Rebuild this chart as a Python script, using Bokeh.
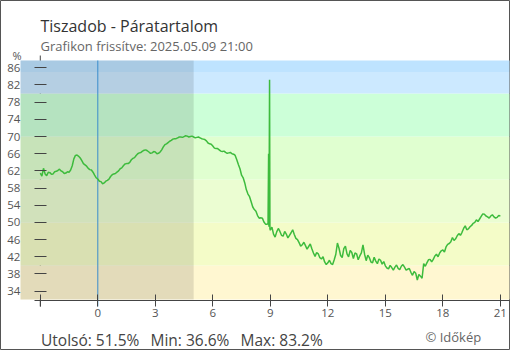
import numpy as np
from bokeh.plotting import figure
from bokeh.models import Range1d, LinearAxis, FixedTicker, Label, ColumnDataSource
from bokeh.embed import file_html
from bokeh.resources import INLINE

# ---- data -------------------------------------------------------------
title_text = "Tiszadob - Páratartalom"
subtitle_text = "Grafikon frissítve: 2025.05.09 21:00"
copyright_text = "© Időkép"

start_hour = -3.0
step_hour = 1 / 6  # 10 minutes
# readings on the 10-minute marks, from -3:00 to 21:00
humidity = [
    61.5, 62.6, 60.9, 61.6, 61.3, 61.9, 62.4, 61.8, 61.5, 61.7,
    63.2, 65.6, 65.4, 64.4, 63.4, 62.6, 62.2, 61.0, 60.1, 59.5,
    59.2, 59.8, 60.7, 61.3, 61.7, 62.5, 63.2, 63.7, 64.0, 64.9,
    65.6, 66.2, 66.6, 66.9, 66.4, 66.2, 66.4, 66.1, 66.9, 68.1,
    68.6, 69.1, 69.5, 69.7, 69.9, 70.0, 70.1, 70.0, 69.9, 69.8,
    69.7, 69.4, 69.0, 68.3, 67.8, 67.2, 66.9, 66.5, 66.3, 66.2,
    66.0, 65.6, 63.5, 61.0, 59.2, 56.6, 54.8, 53.0, 51.6, 51.1,
    50.1, 49.6, 48.2, 47.3, 47.8, 47.9, 46.8, 47.3, 47.0, 48.3,
    46.3, 45.3, 44.8, 44.6, 44.4, 43.9, 42.1, 42.7, 41.5, 40.8,
    40.6, 40.4, 41.3, 45.2, 42.3, 43.9, 42.7, 43.5, 41.6, 42.7,
    42.2, 44.8, 41.1, 41.8, 40.6, 41.0, 41.5, 40.3, 39.9, 39.2,
    39.5, 39.6, 39.3, 39.8, 39.6, 39.1, 38.4, 38.6, 36.6, 37.5,
    40.4, 40.6, 41.4, 41.4, 42.6, 42.9, 43.6, 44.3, 45.1, 46.5,
    46.2, 47.4, 47.7, 49.2, 48.5, 49.3, 50.0, 50.2, 51.4, 51.9,
    51.3, 51.5, 51.3, 51.2, 51.5,
]
# readings 5 minutes after each 10-minute mark
humidity_mid = [
    60.8, 61.3, 61.7, 61.2, 61.8, 62.1, 62.0, 61.4, 61.8, 62.2,
    64.8, 65.7, 65.0, 63.7, 63.1, 62.3, 61.7, 60.4, 59.6, 59.0,
    59.6, 60.1, 61.1, 61.4, 62.0, 62.7, 63.6, 63.7, 64.6, 65.1,
    66.0, 66.3, 66.8, 66.7, 66.1, 66.5, 66.0, 66.4, 67.6, 68.3,
    68.9, 69.4, 69.5, 69.9, 69.8, 70.2, 69.9, 70.1, 69.7, 69.9,
    69.5, 69.3, 68.5, 68.2, 67.3, 67.2, 66.6, 66.6, 66.1, 66.3,
    65.9, 64.6, 62.5, 60.4, 57.6, 56.0, 53.6, 52.6, 51.0, 51.0,
    49.6, 50.5, 48.9, 46.6, 48.6, 47.0, 47.9, 46.4, 47.6, 47.2,
    46.0, 44.5, 45.4, 43.8, 45.0, 42.9, 43.0, 41.8, 42.0, 40.2,
    41.2, 40.2, 42.6, 44.0, 41.8, 44.5, 42.0, 43.0, 42.9, 41.3,
    42.9, 42.6, 42.4, 40.8, 41.9, 40.4, 41.2, 40.9, 39.4, 40.0,
    38.9, 40.1, 39.0, 40.2, 38.9, 39.3, 37.7, 38.2, 37.9, 37.0,
    39.8, 41.3, 40.8, 42.2, 42.0, 43.4, 43.1, 44.9, 45.5, 45.8,
    46.9, 47.0, 48.6, 48.3, 49.0, 49.8, 50.6, 50.8, 52.0, 51.5,
    51.0, 51.8, 51.0, 51.6,
]
# short spike just before 9:00
spike_hours = [8.88, 8.91, 8.93, 8.96, 8.98]
spike_values = [49.7, 66.0, 49.0, 83.2, 48.5]

band_low = [32.07, 40, 50, 60, 70, 80, 85]
band_high = [40, 50, 60, 70, 80, 85, 87.7]
band_colors = ["#fff7d1", "#f4fcc8", "#ebfdd2", "#e0ffd0", "#ccffd8", "#cce9ff", "#bee3ff"]

y_ticks = [34, 38, 42, 46, 50, 54, 58, 62, 66, 70, 74, 78, 82, 86]
x_ticks = [-3, 0, 3, 6, 9, 12, 15, 18, 21]
night_end = 5.0
midnight = 0.0

# ---- build series ------------------------------------------------------
hours = [start_hour + i * step_hour for i in range(len(humidity))]
mid_hours = [start_hour + (i + 0.5) * step_hour for i in range(len(humidity_mid))]
pairs = sorted(list(zip(hours, humidity)) + list(zip(mid_hours, humidity_mid))
               + list(zip(spike_hours, spike_values)))
xs = [a for a, b in pairs]
ys = [b for a, b in pairs]
src = ColumnDataSource(dict(x=xs, y=ys))

last_v = humidity[-1]
min_v = min(ys)
max_v = max(ys)

# full-canvas frame; ranges chosen so the band area sits where the original has it
x0, x1 = -5.076, 21.529
y0, y1 = 20.19, 101.67
band_x0, band_x1 = -4.032, 21.477
axis_y = 31.84
yaxis_top, yaxis_bottom = 88.86, 30.44

FONT = "Open Sans"

p = figure(width=510, height=350, x_range=Range1d(x0, x1), y_range=Range1d(y0, y1),
           output_backend="svg", toolbar_location=None,
           x_axis_location=None, y_axis_location=None,
           min_border=0)
p.outline_line_color = "#555555"
p.grid.visible = False
p.background_fill_color = "white"
p.border_fill_color = "white"

# y axis line (drawn under the bands, visible only just above the top band)
p.segment(x0=[-3], y0=[yaxis_bottom], x1=[-3], y1=[yaxis_top], line_color="#444444", line_width=1)

# colour bands
p.quad(left=[band_x0] * len(band_low), right=[band_x1] * len(band_low), bottom=band_low, top=band_high,
       fill_color=band_colors, line_color=None)
# night shading
p.quad(left=[band_x0], right=[night_end], bottom=[band_low[0]], top=[band_high[-1]],
       fill_color="black", fill_alpha=0.11, line_color=None)
# midnight line
p.segment(x0=[midnight], y0=[yaxis_bottom], x1=[midnight], y1=[band_high[-1]], line_color="#3a8ccc", line_width=1)

p.line("x", "y", source=src, line_color="#3dbb3d", line_width=1.5)

# axes
yax = LinearAxis(fixed_location=-3, ticker=FixedTicker(ticks=y_ticks))
yax.axis_line_color = None
yax.major_tick_in = 6
yax.major_tick_out = 6
yax.major_tick_line_color = "#444444"
yax.minor_tick_line_color = None
yax.major_label_standoff = 14
yax.major_label_text_font = FONT
yax.major_label_text_font_size = "11.5px"
yax.major_label_text_color = "#555555"
p.add_layout(yax, "left")

xax = LinearAxis(fixed_location=axis_y, ticker=FixedTicker(ticks=x_ticks), bounds=(-3.3, band_x1))
xax.major_label_overrides = {-3: ""}
xax.axis_line_color = "#444444"
xax.major_tick_in = 6
xax.major_tick_out = 6
xax.major_tick_line_color = "#444444"
xax.minor_tick_line_color = None
xax.major_label_standoff = 3
xax.major_label_text_font = FONT
xax.major_label_text_font_size = "11.5px"
xax.major_label_text_color = "#555555"
p.add_layout(xax, "below")

def lab(x, y, text, size, color):
    p.add_layout(Label(x=x, y=y, x_units="screen", y_units="screen", text=text,
                       text_font=FONT, text_font_size=size, text_color=color,
                       text_baseline="alphabetic", text_align="left"))

lab(40, 325, title_text, "16px", "#333333")
lab(40, 305, subtitle_text, "13px", "#666666")
lab(12, 295, "%", "11px", "#555555")
lab(40.5, 11, f"Utolsó: {last_v:.1f}%", "15.5px", "#444444")
lab(150, 11, f"Min: {min_v:.1f}%", "15.5px", "#444444")
lab(240, 11, f"Max: {max_v:.1f}%", "15.5px", "#444444")
lab(425, 14, copyright_text, "13px", "#666666")

open("out.html", "w").write(file_html(p, INLINE))
